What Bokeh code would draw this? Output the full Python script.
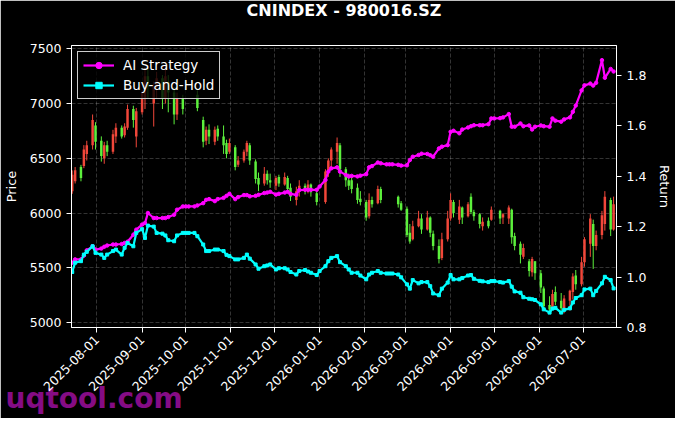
import math
import numpy as np
import pandas as pd
from bokeh.plotting import figure
from bokeh.models import (Range1d, LinearAxis, ColumnDataSource, Legend, LegendItem,
                          Title, FixedTicker, MonthsTicker, DatetimeTickFormatter,
                          NumeralTickFormatter)
from bokeh.embed import file_html
from bokeh.resources import INLINE

title = "CNINDEX - 980016.SZ"
watermark = "uqtool.com"
start_date = "2025-07-15"   # one sample every 2 trading days
x_start = "2025-07-14 12:00"
x_end = "2026-07-24"

price_ticks = [5000, 5500, 6000, 6500, 7000, 7500]
return_ticks = [0.8, 1.0, 1.2, 1.4, 1.6, 1.8]

open_ = [6200, 6290, 6420, 6430, 6540, 6620, 6800, 6660, 6500, 6620,
         6560, 6700, 6780, 6710, 6780, 6950, 6700, 6920, 7050, 7250,
         7000, 7150, 7230, 7050, 7200, 7100, 6900, 7050, None, None,
         None, 7080, 6850, 6660, 6760, 6650, 6770, 6700, 6640, 6560,
         6600, 6440, 6480, 6560, 6620, 6470, 6320, 6270, 6360, 6300,
         6250, 6330, 6260, 6320, 6230, 6120, 6200, 6250, 6200, 6260,
         6180, None, 6100, 6380, 6480, 6560, 6620, 6400, 6300, 6300,
         6230, 6130, 6100, 5970, 6120, 6090, 6220, None, None, None,
         6150, 6090, 6040, 5820, 5760, 5880, 5950, 5850, 5960, 5810,
         5700, 5590, 5760, 5950, 6100, 5940, 6050, 5970, 6150, 6010,
         5990, 5880, 5930, 5940, None, 6020, 5960, 5950, 6030, 5790,
         5720, 5600, 5560, 5460, 5560, 5450, 5310, 5160, 5130, 5280,
         5200, 5120, 5200, 5280, 5430, 5350, 5550, 5720, 5900, 5700,
         5800, 5900, 6120, 5850]
close_ = [6350, 6390, 6320, 6580, 6620, 6850, 6650, 6520, 6620, 6560,
          6720, 6780, 6700, 6790, 6950, 6850, 6930, 7100, 7250, 7150,
          7150, 7230, 7050, 7250, 7100, 6900, 7050, 6950, None, None,
          None, 6960, 6650, 6760, 6700, 6760, 6700, 6620, 6540, 6640,
          6420, 6480, 6560, 6640, 6480, 6310, 6260, 6360, 6300, 6280,
          6320, 6270, 6330, 6220, 6150, 6200, 6250, 6200, 6260, 6190,
          6100, None, 6380, 6480, 6580, 6640, 6400, 6300, 6250, 6220,
          6120, 6100, 5960, 6120, 6080, 6220, 6120, None, None, None,
          6080, 6030, 5800, 5740, 5880, 5950, 5850, 5960, 5820, 5700,
          5580, 5760, 5950, 6120, 6000, 6060, 5960, 6080, 6010, 5970,
          5900, 5920, 5880, 6030, None, 5950, 5990, 6050, 5780, 5700,
          5620, 5680, 5470, 5580, 5450, 5320, 5150, 5120, 5260, 5190,
          5130, 5220, 5290, 5420, 5350, 5550, 5760, 5950, 5700, 5800,
          5980, 6150, 5850, 6080]
high_ = [6390, 6420, 6440, 6620, 6660, 6900, 6830, 6700, 6650, 6660,
         6760, 6820, 6800, 6820, 6990, 6980, 6960, 7120, 7330, 7320,
         7200, 7290, 7260, 7380, 7260, 7150, 7100, 7080, None, None,
         None, 7120, 6880, 6790, 6810, 6790, 6800, 6800, 6670, 6680,
         6620, 6520, 6580, 6660, 6640, 6490, 6370, 6420, 6390, 6360,
         6340, 6350, 6370, 6340, 6270, 6240, 6300, 6270, 6300, 6270,
         6210, None, 6400, 6500, 6600, 6690, 6640, 6420, 6360, 6330,
         6270, 6200, 6120, 6180, 6150, 6250, 6240, None, None, None,
         6160, 6110, 6060, 5900, 5930, 6020, 5990, 6020, 5970, 5840,
         5760, 5820, 6020, 6180, 6120, 6120, 6060, 6100, 6180, 6030,
         6000, 5960, 5960, 6060, None, 6030, 6000, 6070, 6040, 5820,
         5740, 5720, 5580, 5600, 5560, 5480, 5330, 5240, 5300, 5330,
         5270, 5250, 5300, 5450, 5480, 5600, 5780, 5990, 5940, 5840,
         6020, 6200, 6140, 6150]
low_ = [6176, 6270, 6290, 6410, 6480, 6580, 6580, 6470, 6450, 6520,
        6540, 6640, 6680, 6690, 6760, 6780, 6600, 6900, 6950, 7050,
        6790, 7050, 6950, 7000, 6920, 6810, 6850, 6900, None, None,
        None, 6930, 6600, 6620, 6630, 6620, 6660, 6540, 6500, 6540,
        6390, 6420, 6460, 6520, 6440, 6270, 6200, 6250, 6260, 6230,
        6210, 6240, 6250, 6190, 6110, 6070, 6150, 6170, 6180, 6150,
        6070, None, 6085, 6330, 6420, 6450, 6330, 6240, 6210, 6180,
        6085, 6070, 5930, 5950, 6050, 6080, 6090, None, None, None,
        6050, 6020, 5780, 5720, 5750, 5870, 5810, 5840, 5780, 5660,
        5540, 5570, 5740, 5930, 5960, 5900, 5900, 5960, 5990, 5930,
        5860, 5840, 5860, 5930, None, 5900, 5900, 5900, 5720, 5660,
        5540, 5580, 5420, 5420, 5390, 5270, 5110, 5085, 5120, 5160,
        5110, 5085, 5110, 5210, 5300, 5330, 5510, 5600, 5490, 5660,
        5760, 5840, 5790, 5840]

ai_strategy = [1.057, 1.07, 1.07, 1.085, 1.106, 1.122, 1.109, 1.113, 1.12, 1.125,
               1.129, 1.129, 1.131, 1.135, 1.14, 1.168, 1.188, 1.208, 1.214, 1.254,
               1.234, 1.234, 1.234, 1.234, 1.238, 1.247, 1.267, 1.28, 1.28, 1.28,
               1.28, 1.284, 1.293, 1.306, 1.309, 1.301, 1.309, 1.314, 1.322, 1.33,
               1.309, 1.317, 1.325, 1.325, 1.32, 1.322, 1.326, 1.333, 1.335, 1.338,
               1.327, 1.33, 1.335, 1.338, 1.33, 1.326, 1.345, 1.346, 1.346, 1.346,
               1.346, 1.359, 1.385, 1.418, 1.431, 1.435, 1.418, 1.405, 1.399, 1.401,
               1.399, 1.402, 1.408, 1.435, 1.44, 1.454, 1.451, 1.447, 1.447, 1.447,
               1.445, 1.442, 1.443, 1.464, 1.477, 1.484, 1.489, 1.488, 1.483, 1.477,
               1.51, 1.517, 1.523, 1.576, 1.58, 1.57, 1.585, 1.593, 1.598, 1.602,
               1.602, 1.602, 1.606, 1.629, 1.629, 1.63, 1.633, 1.646, 1.596, 1.596,
               1.609, 1.598, 1.601, 1.585, 1.596, 1.601, 1.598, 1.596, 1.629, 1.62,
               1.616, 1.625, 1.633, 1.655, 1.68, 1.74, 1.76, 1.767, 1.759, 1.77,
               1.86, 1.79, 1.825, 1.815]
buy_and_hold = [1.02, 1.057, 1.063, 1.089, 1.10, 1.122, 1.096, 1.089, 1.076, 1.089,
                1.103, 1.109, 1.089, 1.116, 1.135, 1.122, 1.175, 1.19, 1.155, 1.204,
                1.20, 1.175, 1.172, 1.165, 1.146, 1.142, 1.165, 1.175, 1.175, 1.175,
                1.175, 1.162, 1.129, 1.103, 1.103, 1.109, 1.109, 1.103, 1.088, 1.083,
                1.07, 1.07, 1.076, 1.089, 1.073, 1.05, 1.033, 1.043, 1.046, 1.05,
                1.03, 1.035, 1.035, 1.03, 1.02, 1.01, 1.024, 1.028, 1.022, 1.017,
                1.008, 1.024, 1.043, 1.063, 1.076, 1.083, 1.059, 1.043, 1.03, 1.017,
                1.017, 1.006, 0.991, 1.01, 1.017, 1.024, 1.017, 1.014, 1.014, 1.014,
                1.01, 0.999, 0.971, 0.954, 0.988, 0.975, 0.98, 0.98, 0.964, 0.935,
                0.928, 0.954, 0.978, 1.008, 0.991, 0.991, 0.996, 1.006, 1.008, 0.993,
                0.985, 0.983, 0.98, 0.984, 0.984, 0.98, 0.978, 0.984, 0.962, 0.943,
                0.938, 0.92, 0.914, 0.912, 0.909, 0.892, 0.872, 0.859, 0.875, 0.878,
                0.859, 0.87, 0.876, 0.899, 0.917, 0.928, 0.951, 0.954, 0.928, 0.945,
                0.975, 1.001, 0.988, 0.955]

UP = "#f2473a"
DOWN = "#5cf03c"
FONT = "DejaVu Sans"

dates = pd.date_range(start_date, periods=len(close_), freq="2B")
o = np.array([np.nan if v is None else v for v in open_], dtype=float)
c = np.array([np.nan if v is None else v for v in close_], dtype=float)
h = np.array([np.nan if v is None else v for v in high_], dtype=float)
l = np.array([np.nan if v is None else v for v in low_], dtype=float)
colors = [UP if cc >= oo else DOWN for oo, cc in zip(o, c)]

candles = ColumnDataSource(dict(date=dates, open=o, close=c, high=h, low=l,
                                top=np.fmax(o, c), bottom=np.fmin(o, c), color=colors))
lines = ColumnDataSource(dict(date=dates, ai=ai_strategy, bh=buy_and_hold))

p = figure(width=675, height=418, x_axis_type="datetime",
           output_backend="svg", toolbar_location=None,
           background_fill_color="black", border_fill_color="black",
           outline_line_color="white", outline_line_width=1,
           min_border_left=68, min_border_right=53, min_border_top=44, min_border_bottom=91,
           x_range=Range1d(pd.Timestamp(x_start), pd.Timestamp(x_end)),
           y_range=Range1d(4955, 7530))
p.extra_y_ranges = {"ret": Range1d(0.8, 1.918)}

# main title (outermost) plus a blank spacer title next to the frame
p.title.text = title
p.title.align = "center"
p.title.vertical_align = "top"
p.title.standoff = 0
p.title.text_color = "white"
p.title.text_font = FONT
p.title.text_font_size = "16px"
p.title.text_font_style = "bold"
spacer = Title(text=" ", text_font=FONT, text_font_size="16px", standoff=3)
p.add_layout(spacer, "above")

day = 86400000
p.segment(x0="date", y0="low", x1="date", y1="high", color="color", line_width=1,
          source=candles)
p.vbar(x="date", top="top", bottom="bottom", width=1.7 * day, fill_color="color",
       line_color=None, source=candles)

ai_line = p.line("date", "ai", source=lines, color="#ff00ff", line_width=2.2,
                 y_range_name="ret")
ai_pts = p.scatter("date", "ai", source=lines, marker="circle", size=3.5,
                   color="#ff00ff", y_range_name="ret")
bh_line = p.line("date", "bh", source=lines, color="#00ffff", line_width=2.2,
                 y_range_name="ret")
bh_pts = p.scatter("date", "bh", source=lines, marker="square", size=3,
                   color="#00ffff", y_range_name="ret")

right = LinearAxis(y_range_name="ret", axis_label="Return",
                   ticker=FixedTicker(ticks=return_ticks),
                   formatter=NumeralTickFormatter(format="0.0"))
p.add_layout(right, "right")

month_ticker = MonthsTicker(months=list(range(1, 13)))
p.xaxis.ticker = month_ticker
p.xgrid.ticker = month_ticker
fmt = "%Y-%m-%d"
p.xaxis.formatter = DatetimeTickFormatter(days=fmt, months=fmt, years=fmt, hours=fmt,
                                          minutes=fmt, seconds=fmt, milliseconds=fmt,
                                          microseconds=fmt)
p.xaxis.major_label_orientation = math.pi / 4
p.xaxis.level = "overlay"   # date labels are painted over the watermark

p.yaxis[0].ticker = FixedTicker(ticks=price_ticks)
p.yaxis[0].formatter = NumeralTickFormatter(format="0")
p.yaxis[0].axis_label = "Price"

for ax in p.axis:
    ax.axis_line_color = "white"
    ax.major_tick_line_color = "white"
    ax.minor_tick_line_color = None
    ax.major_tick_out = 5
    ax.major_tick_in = 0
    ax.major_label_text_color = "white"
    ax.major_label_text_font = FONT
    ax.major_label_text_font_size = "12.5px"
    ax.major_label_standoff = 5
    ax.axis_label_text_color = "white"
    ax.axis_label_text_font = FONT
    ax.axis_label_text_font_size = "13px"
    ax.axis_label_text_font_style = "normal"
    ax.axis_label_standoff = 8

for g in p.grid:
    g.grid_line_color = "white"
    g.grid_line_alpha = 0.25
    g.grid_line_dash = "4 2"
    g.grid_line_width = 0.8

legend = Legend(items=[LegendItem(label="AI Strategy", renderers=[ai_line, ai_pts]),
                       LegendItem(label="Buy-and-Hold", renderers=[bh_line, bh_pts])],
                location="top_left", margin=6, padding=5, spacing=4,
                glyph_width=31, glyph_height=16, label_height=16, label_standoff=9,
                label_text_font=FONT, label_text_font_size="13.5px",
                label_text_color="white",
                background_fill_color="black", background_fill_alpha=0.8,
                border_line_color="white", border_line_alpha=0.8, border_line_width=1)
p.add_layout(legend)

# watermark: a title below the date axis, pulled up into the tick label band
wm = Title(text=watermark, align="left", vertical_align="middle", offset=-66,
           standoff=-36, text_color="#850c85", text_font=FONT,
           text_font_size="28px", text_font_style="bold")
p.add_layout(wm, "below")

open("out.html", "w").write(file_html(p, INLINE))
